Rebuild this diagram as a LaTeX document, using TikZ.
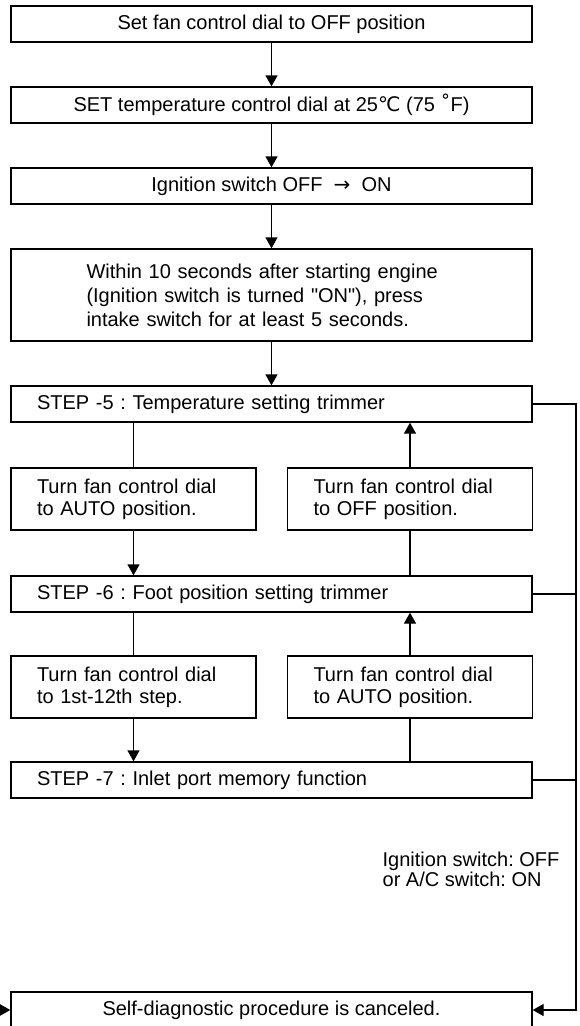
\documentclass[tikz,border=0pt]{standalone}
\usepackage{fontspec}
\setmainfont{Liberation Sans}
\newfontfamily\symfont{DejaVu Sans}
\usetikzlibrary{arrows.meta,positioning}
\frenchspacing

\begin{document}
\begin{tikzpicture}[x=1pt, y=-1pt, line width=1.35pt,
  >={Triangle[width=12pt,length=11pt]},
  font=\fontsize{20}{24}\selectfont\frenchspacing,
  stepbox/.style={draw, minimum width=521pt, minimum height=36pt, inner ysep=2pt},
  centerbox/.style={stepbox, align=center},
  leftbox/.style={stepbox, text width=469pt, inner xsep=26pt, align=left},
  halfbox/.style={draw, minimum height=62pt, text width=193pt, inner xsep=26pt,
    align=left, font=\fontsize{20}{22}\selectfont\frenchspacing}]
\useasboundingbox (0,0) rectangle (579,1026);

% Preparation
\node[centerbox] (fanoff) at (271.5,24) {Set fan control dial to OFF position};
\node[centerbox] (settemp) at (271.5,105) {SET temperature control dial at 25{\symfont ℃} (75 {\symfont ˚}F)};
\node[centerbox] (ignition) at (271.5,186) {Ignition switch OFF\ \ {\symfont →}\ \ ON};
\node[stepbox, minimum height=92pt, text width=370pt, inner xsep=75.5pt, align=left] (press) at (271.5,295)
  {Within 10 seconds after starting engine\\(Ignition switch is turned \textquotedbl ON\textquotedbl), press\\intake switch for at least 5 seconds.};

\draw[->] (fanoff) -- (settemp);
\draw[->] (settemp) -- (ignition);
\draw[->] (ignition) -- (press);

% Trimmer steps
\node[leftbox] (step5) at (271.5,404) {STEP -5 : Temperature setting trimmer};
\node[halfbox] (auto1) at (133.5,499) {Turn fan control dial\\to AUTO position.};
\node[halfbox] (off1) at (410,499) {Turn fan control dial\\to OFF position.};
\node[leftbox] (step6) at (271.5,594) {STEP -6 : Foot position setting trimmer};
\node[halfbox] (dial12) at (133.5,687) {Turn fan control dial\\to 1st-12th step.};
\node[halfbox] (auto2) at (410,687) {Turn fan control dial\\to AUTO position.};
\node[leftbox] (step7) at (271.5,780) {STEP -7 : Inlet port memory function};

\draw[->] (press) -- (step5);
\draw (step5.south -| auto1) -- (auto1);
\draw[->] (auto1) -- (step6.north -| auto1);
\draw (step6.north -| off1) -- (off1);
\draw[->] (off1) -- (step5.south -| off1);
\draw (step6.south -| dial12) -- (dial12);
\draw[->] (dial12) -- (step7.north -| dial12);
\draw (step7.north -| auto2) -- (auto2);
\draw[->] (auto2) -- (step6.south -| auto2);

% Cancel
\node[centerbox] (cancel) at (271.5,1010) {Self-diagnostic procedure is canceled.};
\node[anchor=north west, inner sep=0pt, align=left, font=\fontsize{20}{20}\selectfont\frenchspacing] (cond) at (382,851)
  {Ignition switch: OFF\\or A/C switch: ON};

\coordinate (rail) at (576,0);
\coordinate (outside) at (-20,1010);
\draw[->] (step5.east) -- (step5.east -| rail) -- (cancel.east -| rail) -- (cancel.east);
\draw (step6.east) -- (step6.east -| rail);
\draw (step7.east) -- (step7.east -| rail);
\draw[->] (outside) -- (cancel.west);
\end{tikzpicture}
\end{document}
